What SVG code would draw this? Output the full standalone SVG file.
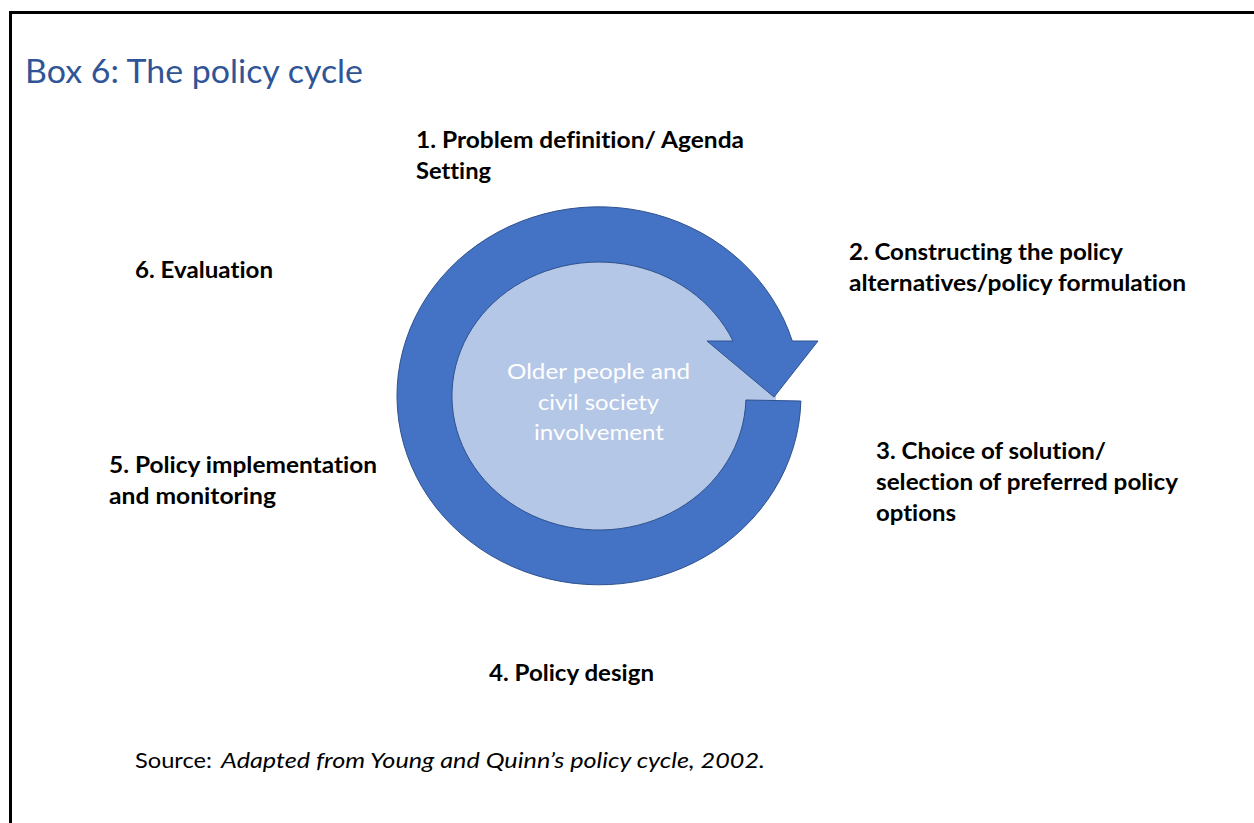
<svg xmlns="http://www.w3.org/2000/svg" width="1254" height="823" viewBox="0 0 1254 823">
  <style>
    text { font-variant-ligatures: none; }
    .frame { stroke: #000; stroke-width: 3; fill: none; }
    .title { font-family: Lato, "Open Sans", "Liberation Sans", sans-serif; font-size: 32px; fill: #2F5597; }
    .label { font-family: Lato, "Open Sans", "Liberation Sans", sans-serif; font-size: 22px; font-weight: bold; fill: #000; }
    .core { font-family: Lato, "Open Sans", "Liberation Sans", sans-serif; font-size: 22px; fill: #FFFFFF; text-anchor: middle; }
    .source { font-family: Lato, "Open Sans", "Liberation Sans", sans-serif; font-size: 21px; fill: #000; }
    .band { fill: #4472C4; stroke: #2F528F; stroke-width: 1; stroke-linejoin: miter; }
    .hub { fill: #B4C7E7; }
  </style>

  <rect width="1254" height="823" fill="#FFFFFF"/>

  <!-- frame: top and left rules -->
  <g id="frame">
    <line class="frame" x1="9" y1="12.5" x2="1254" y2="12.5"/>
    <line class="frame" x1="10.5" y1="11" x2="10.5" y2="823"/>
  </g>

  <g id="title">
    <text class="title" x="25" y="83" textLength="338" lengthAdjust="spacingAndGlyphs">Box 6: The policy cycle</text>
  </g>

  <!-- central hub with the circular arrow around it -->
  <g id="cycle">
    <ellipse class="hub" cx="599" cy="396" rx="177" ry="163"/>
    <path class="band" d="M 800.9,401 A 202 189 0 1 1 792.3,341 L 818,341 L 774,397 L 707,341 L 733,341 A 147 134 0 1 0 745.9,400 Z"/>
  </g>

  <g id="hub-text">
    <text class="core" x="598.5" y="379" textLength="183" lengthAdjust="spacingAndGlyphs">Older people and</text>
    <text class="core" x="598.5" y="410" textLength="121" lengthAdjust="spacingAndGlyphs">civil society</text>
    <text class="core" x="599" y="440" textLength="130" lengthAdjust="spacingAndGlyphs">involvement</text>
  </g>

  <!-- stage labels -->
  <g id="stage-1">
    <text class="label" x="416" y="148" textLength="328" lengthAdjust="spacingAndGlyphs">1. Problem definition/ Agenda</text>
    <text class="label" x="416" y="179" textLength="75" lengthAdjust="spacingAndGlyphs">Setting</text>
  </g>
  <g id="stage-2">
    <text class="label" x="849" y="260" textLength="274" lengthAdjust="spacingAndGlyphs">2. Constructing the policy</text>
    <text class="label" x="849" y="291" textLength="337" lengthAdjust="spacingAndGlyphs">alternatives/policy formulation</text>
  </g>
  <g id="stage-3">
    <text class="label" x="876" y="459" textLength="230" lengthAdjust="spacingAndGlyphs">3. Choice of solution/</text>
    <text class="label" x="876" y="490" textLength="302" lengthAdjust="spacingAndGlyphs">selection of preferred policy</text>
    <text class="label" x="876" y="521" textLength="80" lengthAdjust="spacingAndGlyphs">options</text>
  </g>
  <g id="stage-4">
    <text class="label" x="489" y="681" textLength="165" lengthAdjust="spacingAndGlyphs">4. Policy design</text>
  </g>
  <g id="stage-5">
    <text class="label" x="109" y="473" textLength="268" lengthAdjust="spacingAndGlyphs">5. Policy implementation</text>
    <text class="label" x="109" y="504" textLength="167" lengthAdjust="spacingAndGlyphs">and monitoring</text>
  </g>
  <g id="stage-6">
    <text class="label" x="135" y="278" textLength="138" lengthAdjust="spacingAndGlyphs">6. Evaluation</text>
  </g>

  <g id="source">
    <text class="source" x="135" y="768" textLength="77" lengthAdjust="spacingAndGlyphs">Source:</text>
    <text class="source" x="221" y="768" font-style="italic" textLength="544" lengthAdjust="spacingAndGlyphs">Adapted from Young and Quinn’s policy cycle, 2002.</text>
  </g>
</svg>
